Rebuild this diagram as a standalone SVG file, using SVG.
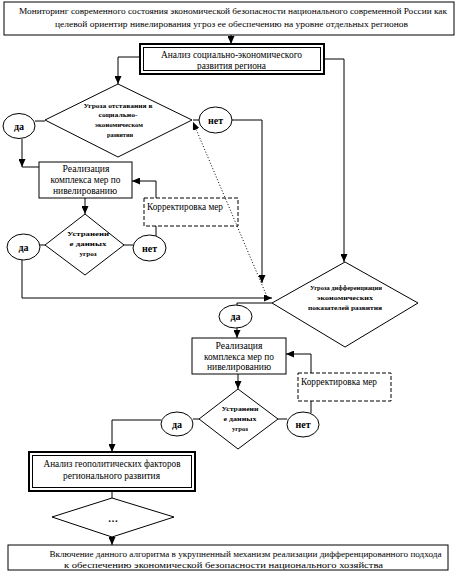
<svg xmlns="http://www.w3.org/2000/svg" width="460" height="581" viewBox="0 0 460 581">
<defs>
<marker id="ah" markerUnits="userSpaceOnUse" markerWidth="8" markerHeight="7" refX="8" refY="3.5" orient="auto">
<path d="M0,0 L8,3.5 L0,7 z" fill="#000"/>
</marker>
<style>
.b{fill:#fff;stroke:#000;stroke-width:1}
.d{fill:none;stroke:#000;stroke-width:1;stroke-dasharray:4,2}
.dbl{fill:#fff;stroke:#000;stroke-width:2}
.t{font-family:"Liberation Serif","DejaVu Serif",serif;font-size:10px;fill:#000}
.sm{font-size:9px}
.s{font-family:"Liberation Serif","DejaVu Serif",serif;font-size:7px;font-weight:bold;fill:#000;text-anchor:middle}
.e{font-family:"Liberation Serif","DejaVu Serif",serif;font-size:10px;font-weight:bold;fill:#000;text-anchor:middle}
.c{text-anchor:middle}
.ln{fill:none;stroke:#000;stroke-width:1}
.ar{fill:none;stroke:#000;stroke-width:1;marker-end:url(#ah)}
.dt{fill:none;stroke:#000;stroke-width:1;stroke-dasharray:1,2;marker-end:url(#ah)}
</style>
</defs>
<rect width="460" height="581" fill="#fff"/>

<g id="connectors">
<path class="ar" d="M231,35 V44"/>
<path class="ar" d="M140,57 H118 V84"/>
<path class="ar" d="M324,59 H344 V262"/>
<path class="ln" d="M45,121 H35"/>
<path class="ar" d="M22,139 V167"/>
<path class="ln" d="M22,167 H39"/>
<path class="ln" d="M193,120 H199"/>
<path class="ar" d="M232,120 H262 V283"/>
<path class="dt" d="M268,299 L193,122"/>
<path class="ar" d="M156,198 V181 H132"/>
<path class="ar" d="M85,198 V214"/>
<path class="ln" d="M45,245 H40"/>
<path class="ln" d="M124,245 H133"/>
<path class="ln" d="M156,236 V226"/>
<path class="ar" d="M22,260 V298 H272"/>
<path class="ln" d="M272,303 H237 V305"/>
<path class="ar" d="M237,328 V338"/>
<path class="ar" d="M311,373 V354 H286"/>
<path class="ar" d="M238,374 V389"/>
<path class="ln" d="M199,419 H193"/>
<path class="ar" d="M161,420 H112 V452"/>
<path class="ln" d="M278,419 H287"/>
<path class="ln" d="M311,413 V401"/>
<path class="ln" d="M112,491 V498"/>
<path class="ar" d="M112,537 V545"/>
</g>

<g id="n-monitoring">
<rect class="b" x="4" y="2" width="450" height="33"/>
<text class="t sm c" x="233" y="14" textLength="428" lengthAdjust="spacingAndGlyphs">Мониторинг современного состояния экономической безопасности национального современной России как</text>
<text class="t sm c" x="231.5" y="27" textLength="353" lengthAdjust="spacingAndGlyphs">целевой ориентир нивелирования угроз ее обеспечению на уровне отдельных регионов</text>
</g>

<g id="n-analysis1">
<rect class="dbl" x="140" y="44" width="184" height="30"/>
<rect class="b" x="143.5" y="47.5" width="177" height="23"/>
<text class="t c" x="231.5" y="58" textLength="141" lengthAdjust="spacingAndGlyphs">Анализ социально-экономического</text>
<text class="t c" x="231.5" y="69" textLength="69" lengthAdjust="spacingAndGlyphs">развития региона</text>
</g>

<g id="n-dec1">
<polygon class="b" points="118,84 192,120 118,157 45,120"/>
<text class="s" x="118" y="108" textLength="69" lengthAdjust="spacingAndGlyphs">Угроза отставания в</text>
<text class="s" x="118" y="117" textLength="39" lengthAdjust="spacingAndGlyphs">социально-</text>
<text class="s" x="119" y="127" textLength="48" lengthAdjust="spacingAndGlyphs">экономическом</text>
<text class="s" x="120" y="137" textLength="26" lengthAdjust="spacingAndGlyphs">развитии</text>
</g>

<g id="n-yes1">
<ellipse class="b" cx="19" cy="126" rx="16" ry="12.5"/>
<text class="e" x="19" y="130">да</text>
</g>

<g id="n-no1">
<ellipse class="b" cx="215.5" cy="120" rx="16.5" ry="13"/>
<text class="e" x="215.5" y="124">нет</text>
</g>

<g id="n-real1">
<rect class="b" x="39" y="162" width="93" height="36"/>
<text class="t c" x="86" y="172" textLength="47" lengthAdjust="spacingAndGlyphs">Реализация</text>
<text class="t c" x="85.5" y="183" textLength="70" lengthAdjust="spacingAndGlyphs">комплекса мер по</text>
<text class="t c" x="85" y="194" textLength="64" lengthAdjust="spacingAndGlyphs">нивелированию</text>
</g>

<g id="n-corr1">
<rect class="d" x="144" y="198" width="94" height="28"/>
<text class="t" x="147" y="210" textLength="76" lengthAdjust="spacingAndGlyphs">Корректировка мер</text>
</g>

<g id="n-dec2">
<polygon class="b" points="85,214 124,245 85,275 45,245"/>
<text class="s" x="88" y="236" textLength="42" lengthAdjust="spacingAndGlyphs">Устранени</text>
<text class="s" x="88" y="246" textLength="37" lengthAdjust="spacingAndGlyphs">е данных</text>
<text class="s" x="88" y="256" textLength="17" lengthAdjust="spacingAndGlyphs">угроз</text>
</g>

<g id="n-yes2">
<ellipse class="b" cx="23.5" cy="247" rx="16.5" ry="13"/>
<text class="e" x="23.5" y="251">да</text>
</g>

<g id="n-no2">
<ellipse class="b" cx="149.5" cy="248" rx="16.5" ry="13"/>
<text class="e" x="149.5" y="252">нет</text>
</g>

<g id="n-dec3">
<polygon class="b" points="345,262 418,303 345,347 272,303"/>
<text class="s" x="346" y="290" textLength="72" lengthAdjust="spacingAndGlyphs">Угроза дифференциации</text>
<text class="s" x="345" y="300" textLength="56" lengthAdjust="spacingAndGlyphs">экономических</text>
<text class="s" x="345" y="310" textLength="74" lengthAdjust="spacingAndGlyphs">показателей развития</text>
</g>

<g id="n-yes3">
<ellipse class="b" cx="235.5" cy="316.5" rx="16.5" ry="11.5"/>
<text class="e" x="235.5" y="320">да</text>
</g>

<g id="n-real2">
<rect class="b" x="192" y="338" width="94" height="36"/>
<text class="t c" x="239" y="349" textLength="47" lengthAdjust="spacingAndGlyphs">Реализация</text>
<text class="t c" x="239" y="360" textLength="70" lengthAdjust="spacingAndGlyphs">комплекса мер по</text>
<text class="t c" x="239" y="370" textLength="64" lengthAdjust="spacingAndGlyphs">нивелированию</text>
</g>

<g id="n-corr2">
<rect class="d" x="298" y="373" width="93" height="28"/>
<text class="t" x="301" y="385" textLength="76" lengthAdjust="spacingAndGlyphs">Корректировка мер</text>
</g>

<g id="n-dec4">
<polygon class="b" points="238,389 278,419 238,449 199,419"/>
<text class="s" x="240" y="411" textLength="37" lengthAdjust="spacingAndGlyphs">Устранени</text>
<text class="s" x="240" y="421" textLength="33" lengthAdjust="spacingAndGlyphs">е данных</text>
<text class="s" x="240" y="431" textLength="16" lengthAdjust="spacingAndGlyphs">угроз</text>
</g>

<g id="n-yes4">
<ellipse class="b" cx="177" cy="424" rx="16" ry="12"/>
<text class="e" x="177" y="428">да</text>
</g>

<g id="n-no4">
<ellipse class="b" cx="303" cy="424.5" rx="16" ry="12.5"/>
<text class="e" x="303" y="428">нет</text>
</g>

<g id="n-analysis2">
<rect class="dbl" x="29" y="452" width="166" height="39"/>
<rect class="b" x="32.5" y="455.5" width="159" height="32"/>
<text class="t c" x="112" y="467" textLength="137" lengthAdjust="spacingAndGlyphs">Анализ геополитических факторов</text>
<text class="t c" x="111.5" y="479" textLength="97" lengthAdjust="spacingAndGlyphs">регионального развития</text>
</g>

<g id="n-dec5">
<polygon class="b" points="112,498 174,517 112,537 52,517"/>
<text class="e" x="113" y="522">…</text>
</g>

<g id="n-final">
<rect class="b" x="8" y="545" width="440" height="25"/>
<text class="t sm c" x="245.5" y="557" textLength="392" lengthAdjust="spacingAndGlyphs">Включение данного алгоритма в укрупненный механизм реализации дифференцированного подхода</text>
<text class="t sm c" x="223.5" y="568" textLength="319" lengthAdjust="spacingAndGlyphs">к обеспечению экономической безопасности национального хозяйства</text>
</g>
</svg>
